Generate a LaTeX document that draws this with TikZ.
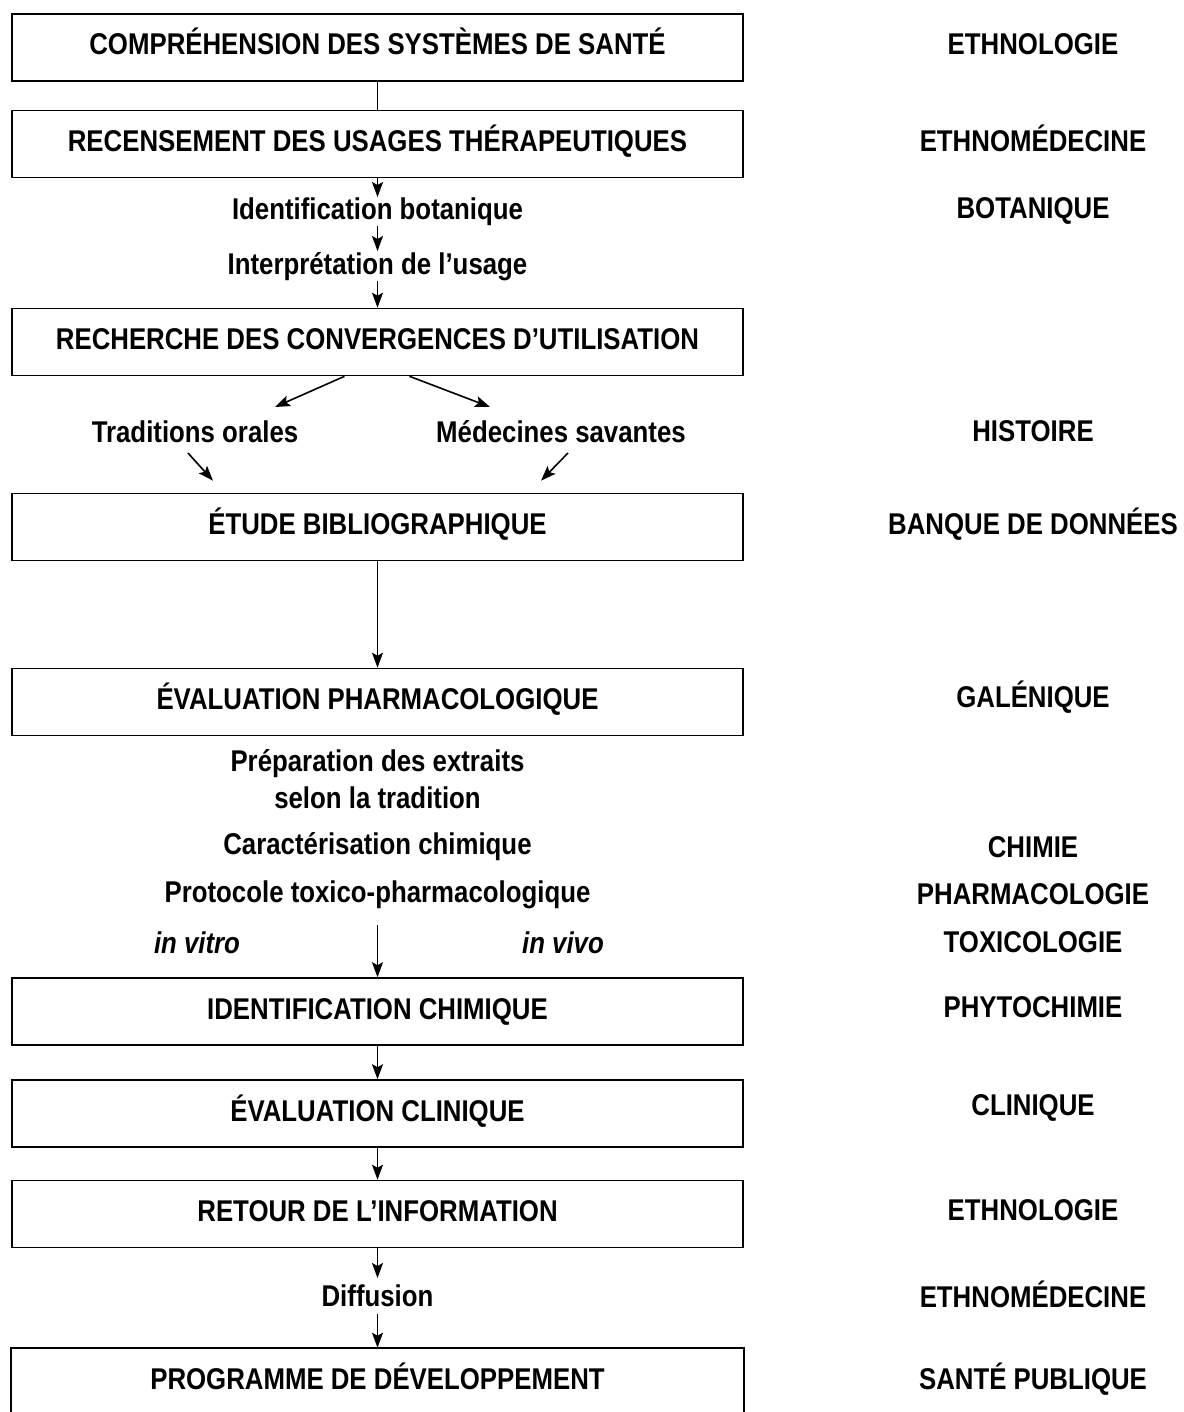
\documentclass[tikz,border=0pt]{standalone}
\usepackage{fontspec}
\setmainfont{Liberation Sans}[FakeStretch=0.86]
\usetikzlibrary{arrows.meta,calc}
\tikzset{
  box/.style={draw, line width=1.6pt, minimum width=731pt, minimum height=67pt, inner sep=0pt, text height=15pt, text depth=0pt, font=\fontsize{30}{36}\selectfont\bfseries},
  lbl/.style={inner sep=0pt, font=\fontsize{30}{36}\selectfont\bfseries},
  itlbl/.style={inner sep=0pt, font=\fontsize{30}{36}\selectfont\bfseries\itshape},
  side/.style={inner sep=0pt, font=\fontsize{30}{36}\selectfont\bfseries},
  arr/.style={line width=1.6pt, -{Stealth[length=15pt,width=11pt,inset=3pt]}},
  ln/.style={line width=1.6pt}
}
\begin{document}
\begin{tikzpicture}[x=1pt,y=-1pt]
\useasboundingbox[fill=white] (0,0) rectangle (1183,1412);
% boxes
\node[box] (b1) at (377.5,47.5) {COMPRÉHENSION DES SYSTÈMES DE SANTÉ};
\node[box] (b2) at (377.5,144) {RECENSEMENT DES USAGES THÉRAPEUTIQUES};
\node[box] (b3) at (377.5,342) {RECHERCHE DES CONVERGENCES D’UTILISATION};
\node[box] (b4) at (377.5,527) {ÉTUDE BIBLIOGRAPHIQUE};
\node[box] (b5) at (377.5,702) {ÉVALUATION PHARMACOLOGIQUE};
\node[box] (b6) at (377.5,1011.5) {IDENTIFICATION CHIMIQUE};
\node[box] (b7) at (377.5,1113.5) {ÉVALUATION CLINIQUE};
\node[box] (b8) at (377.5,1214) {RETOUR DE L’INFORMATION};
\node[box,draw=none] (b9) at (377.5,1382) {PROGRAMME DE DÉVELOPPEMENT};
\draw[line width=1.6pt] (b9.south west) -- (b9.north west) -- (b9.north east) -- (b9.south east);
% intermediate labels
\node[lbl] (ident) at (377.5,212) {Identification botanique};
\node[lbl] (interp) at (377.5,267) {Interprétation de l’usage};
\node[lbl] (trad) at (195,432) {Traditions orales};
\node[lbl] (medc) at (561,432) {Médecines savantes};
\node[lbl] (prep) at (377.5,764) {Préparation des extraits};
\node[lbl] (selon) at (377.5,798) {selon la tradition};
\node[lbl] (carac) at (377.5,847) {Caractérisation chimique};
\node[lbl] (proto) at (377.5,895) {Protocole toxico-pharmacologique};
\node[itlbl] (vitro) at (197,943) {in vitro};
\node[itlbl] (vivo) at (563,943) {in vivo};
\node[lbl] (diff) at (377.5,1296) {Diffusion};
\coordinate (pstart) at (377.5,925);
% right column
\node[side] (r1) at (1033,44) {ETHNOLOGIE};
\node[side] (r2) at (1033,138) {ETHNOMÉDECINE};
\node[side] (r3) at (1033,211) {BOTANIQUE};
\node[side] (r4) at (1033,431) {HISTOIRE};
\node[side] (r5) at (1033,524) {BANQUE DE DONNÉES};
\node[side] (r6) at (1033,697) {GALÉNIQUE};
\node[side] (r7) at (1033,847) {CHIMIE};
\node[side] (r8) at (1033,894) {PHARMACOLOGIE};
\node[side] (r9) at (1033,942) {TOXICOLOGIE};
\node[side] (r10) at (1033,1007) {PHYTOCHIMIE};
\node[side] (r11) at (1033,1108) {CLINIQUE};
\node[side] (r12) at (1033,1210) {ETHNOLOGIE};
\node[side] (r13) at (1033,1294) {ETHNOMÉDECINE};
\node[side] (r14) at (1033,1379) {SANTÉ PUBLIQUE};
% connectors
\draw[ln] (b1.south) -- (b2.north);
\draw[arr] (b2.south) -- ($(ident.center)+(0,-15)$);
\draw[arr] ($(ident.center)+(0,14)$) -- ($(interp.center)+(0,-16)$);
\draw[arr] ($(interp.center)+(0,14)$) -- (b3.north);
\draw[arr] ($(b3.south)+(-33,0)$) -- ($(trad.center)+(80,-25)$);
\draw[arr] ($(b3.south)+(32,0)$) -- ($(medc.center)+(-71,-25)$);
\draw[arr] ($(trad.center)+(-7,21)$) -- ($(b4.north)+(-164.5,-12)$);
\draw[arr] ($(medc.center)+(7,21)$) -- ($(b4.north)+(163.5,-12)$);
\draw[arr] (b4.south) -- (b5.north);
\draw[arr] (pstart) -- (b6.north);
\draw[arr] (b6.south) -- (b7.north);
\draw[arr] (b7.south) -- (b8.north);
\draw[arr] (b8.south) -- ($(diff.center)+(0,-18)$);
\draw[arr] ($(diff.center)+(0,18)$) -- (b9.north);
\end{tikzpicture}
\end{document}
